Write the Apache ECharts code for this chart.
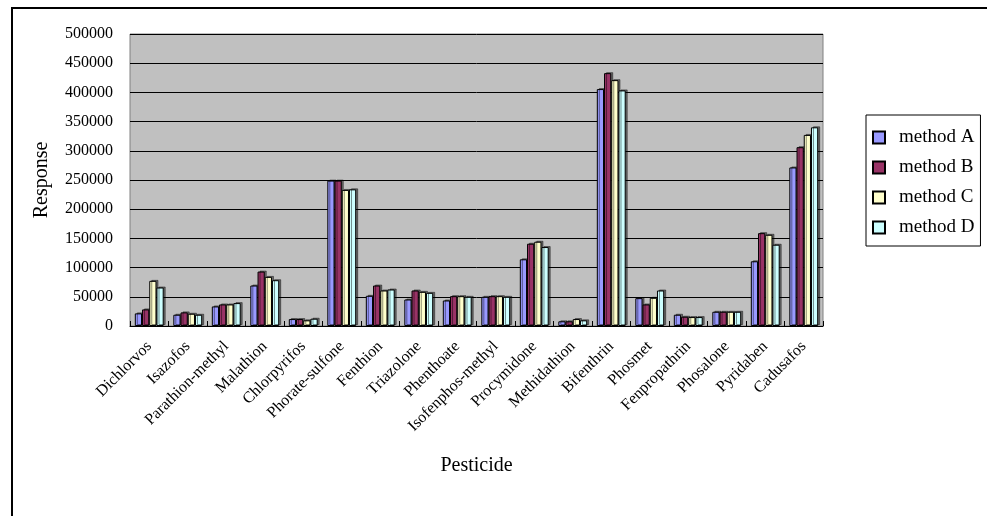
<!DOCTYPE html>
<html>
<head>
<meta charset="utf-8">
<script src="https://cdn.jsdelivr.net/npm/echarts@6/dist/echarts.min.js"></script>
<style>
  html, body { margin: 0; padding: 0; background: #fff; }
  #chart { width: 987px; height: 516px; }
</style>
</head>
<body>
<div id="chart"></div>
<script>
// Pesticide responses measured with four methods
const pesticides = ['Dichlorvos', 'Isazofos', 'Parathion-methyl', 'Malathion', 'Chlorpyrifos',
  'Phorate-sulfone', 'Fenthion', 'Triazolone', 'Phenthoate', 'Isofenphos-methyl', 'Procymidone',
  'Methidathion', 'Bifenthrin', 'Phosmet', 'Fenpropathrin', 'Phosalone', 'Pyridaben', 'Cadusafos'];

const methodA = [21600, 19300, 33500, 69300, 11900, 249000, 51700, 45400, 43700, 50000, 114200, 8000, 405700, 47700, 19300, 24400, 110800, 271500];
const methodB = [28400, 23300, 36900, 93200, 11900, 249000, 69300, 60800, 51100, 51100, 140900, 8000, 433000, 36900, 15900, 24400, 159000, 306200];
const methodC = [77300, 21000, 36900, 84100, 9700, 233000, 60800, 58500, 51100, 51100, 144300, 11900, 421000, 48300, 15300, 24400, 156200, 327200];
const methodD = [65900, 19300, 39200, 78400, 12500, 234000, 62500, 56800, 50000, 50000, 135200, 9700, 403400, 60800, 15300, 24400, 139200, 340200];

const seriesNames = ['method A', 'method B', 'method C', 'method D'];
const seriesColors = ['#9999FF', '#993366', '#FFFFCC', '#CCFFFF'];
const seriesData = [methodA, methodB, methodC, methodD];

const font = '"Liberation Serif", "Times New Roman", serif';

const chart = echarts.init(document.getElementById('chart'), null, { renderer: 'canvas' });

chart.setOption({
  backgroundColor: '#fff',
  animation: false,
  textStyle: { fontFamily: font, color: '#000' },
  graphic: [{
    type: 'rect',
    shape: { x: 12, y: 8, width: 1000, height: 600 },
    style: { fill: 'none', stroke: '#000', lineWidth: 2 },
    silent: true
  }],
  grid: {
    left: 130, right: 164, top: 34, bottom: 190,
    show: true,
    backgroundColor: '#C0C0C0',
    borderColor: '#808080',
    borderWidth: 1
  },
  legend: {
    orient: 'vertical',
    left: 866, top: 115,
    padding: [13, 6, 9, 6],
    backgroundColor: '#fff',
    borderColor: '#000',
    borderWidth: 1,
    itemWidth: 12,
    itemHeight: 12,
    itemGap: 11,
    icon: 'rect',
    textStyle: { fontFamily: font, fontSize: 19, lineHeight: 19, color: '#000', padding: [0, 0, 0, 9] },
    data: seriesNames
  },
  xAxis: {
    type: 'category',
    data: pesticides,
    name: 'Pesticide',
    nameLocation: 'middle',
    nameGap: 130,
    nameTextStyle: { fontFamily: font, fontSize: 20, color: '#000' },
    axisLine: { show: true, lineStyle: { color: '#000', width: 1 } },
    axisTick: { show: true, inside: true, length: 5, lineStyle: { color: '#000' } },
    axisLabel: {
      rotate: 45,
      interval: 0,
      margin: 18,
      fontFamily: font,
      fontSize: 16,
      color: '#000'
    },
    splitLine: { show: false }
  },
  yAxis: {
    type: 'value',
    min: 0,
    max: 500000,
    interval: 50000,
    name: 'Response',
    nameLocation: 'middle',
    nameGap: 78,
    nameRotate: 90,
    nameTextStyle: { fontFamily: font, fontSize: 20, color: '#000' },
    axisLine: { show: false },
    axisTick: { show: false },
    axisLabel: {
      margin: 17,
      fontFamily: font,
      fontSize: 16,
      color: '#000',
      formatter: v => String(v)
    },
    splitLine: { show: true, lineStyle: { color: '#000', width: 1 } }
  },
  series: seriesNames.map((name, i) => ({
    name: name,
    type: 'bar',
    data: seriesData[i],
    barGap: '0%',
    barCategoryGap: '25%',
    itemStyle: {
      color: seriesColors[i],
      borderColor: '#000',
      borderWidth: 1,
      shadowColor: 'rgba(0,0,0,0.45)',
      shadowOffsetX: 2,
      shadowOffsetY: -1
    }
  }))
});
</script>
</body>
</html>
